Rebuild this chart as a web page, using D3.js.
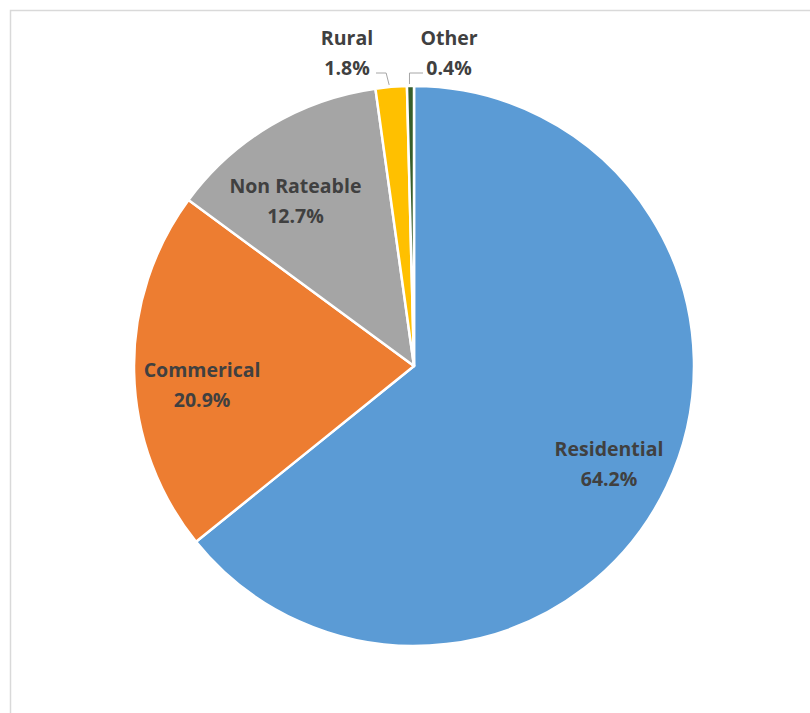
<!DOCTYPE html>
<html lang="en">
<head>
    <meta charset="UTF-8">
    <style>
        body { margin: 0; background: #fff; }
        .lbl { font-family: "Open Sans", sans-serif; font-weight: bold; font-size: 19.5px; fill: #404040; }
    </style>
    <title>Pie</title>
</head>
<body>
<div id="chart"></div>
<script src="https://cdn.jsdelivr.net/npm/d3@7/dist/d3.min.js"></script>
<script>
    var width = 810, height = 713;

    var categories = ["Residential", "Commerical", "Non Rateable", "Rural", "Other"];
    var shares = [64.2, 20.9, 12.7, 1.8, 0.4];
    var colors = ["#5B9BD5", "#ED7D31", "#A5A5A5", "#FFC000", "#375E2A"];

    var cx = 414, cy = 366, radius = 280;

    var svg = d3.select("#chart").append("svg")
        .attr("width", width)
        .attr("height", height);

    // chart frame
    svg.append("path")
        .attr("d", "M10.5," + height + "V10.5H" + width)
        .attr("fill", "none")
        .attr("stroke", "#d9d9d9")
        .attr("stroke-width", 1.5);

    var data = categories.map(function(c, i) { return {name: c, value: shares[i], color: colors[i]}; });

    var pie = d3.pie().sort(null).value(function(d) { return d.value; });
    var arcs = pie(data);

    var arc = d3.arc().innerRadius(0).outerRadius(radius);

    var g = svg.append("g").attr("transform", "translate(" + cx + "," + cy + ")");

    g.selectAll("path.slice")
        .data(arcs)
        .enter().append("path")
        .attr("class", "slice")
        .attr("d", arc)
        .attr("fill", function(d) { return d.data.color; })
        .attr("stroke", "#fff")
        .attr("stroke-width", 2.5)
        .attr("stroke-linejoin", "round");

    // inside labels: radius factor + small nudge
    var inside = {
        "Residential": {f: 0.78, dx: -2, dy: 4},
        "Commerical": {f: 0.757, dx: 0, dy: 14},
        "Non Rateable": {f: 0.73, dx: -14, dy: 11}
    };
    arcs.forEach(function(d) {
        var o = inside[d.data.name];
        if (!o) return;
        var a = (d.startAngle + d.endAngle) / 2;
        var x = Math.sin(a) * radius * o.f + o.dx, y = -Math.cos(a) * radius * o.f + o.dy;
        var t = g.append("text").attr("class", "lbl").attr("text-anchor", "middle");
        t.append("tspan").attr("x", x).attr("y", y - 8).text(d.data.name);
        t.append("tspan").attr("x", x).attr("y", y + 22).text(d.data.value.toFixed(1) + "%");
    });

    // outside labels with leader lines
    var outside = {"Rural": {dx: -67, side: -1}, "Other": {dx: 35, side: 1}};
    arcs.forEach(function(d) {
        var o = outside[d.data.name];
        if (!o) return;
        var a = (d.startAngle + d.endAngle) / 2;
        var ex = Math.sin(a) * radius, ey = -Math.cos(a) * radius;
        var ly = -radius - 11;
        var t = g.append("text").attr("class", "lbl").attr("text-anchor", "middle");
        t.append("tspan").attr("x", o.dx).attr("y", ly - 30).text(d.data.name);
        t.append("tspan").attr("x", o.dx).attr("y", ly).text(d.data.value.toFixed(1) + "%");
        var lineY = ly - 2;
        var pts;
        if (o.side < 0) {
            pts = [[o.dx + 29, lineY], [ex - 5, lineY], [ex - 2, ey - 2]];
        } else {
            pts = [[ex - 1, ey - 2], [ex - 1, lineY], [o.dx - 26, lineY]];
        }
        g.append("path")
            .attr("d", d3.line()(pts))
            .attr("fill", "none")
            .attr("stroke", "#a6a6a6")
            .attr("stroke-width", 1);
    });
</script>
</body>
</html>
